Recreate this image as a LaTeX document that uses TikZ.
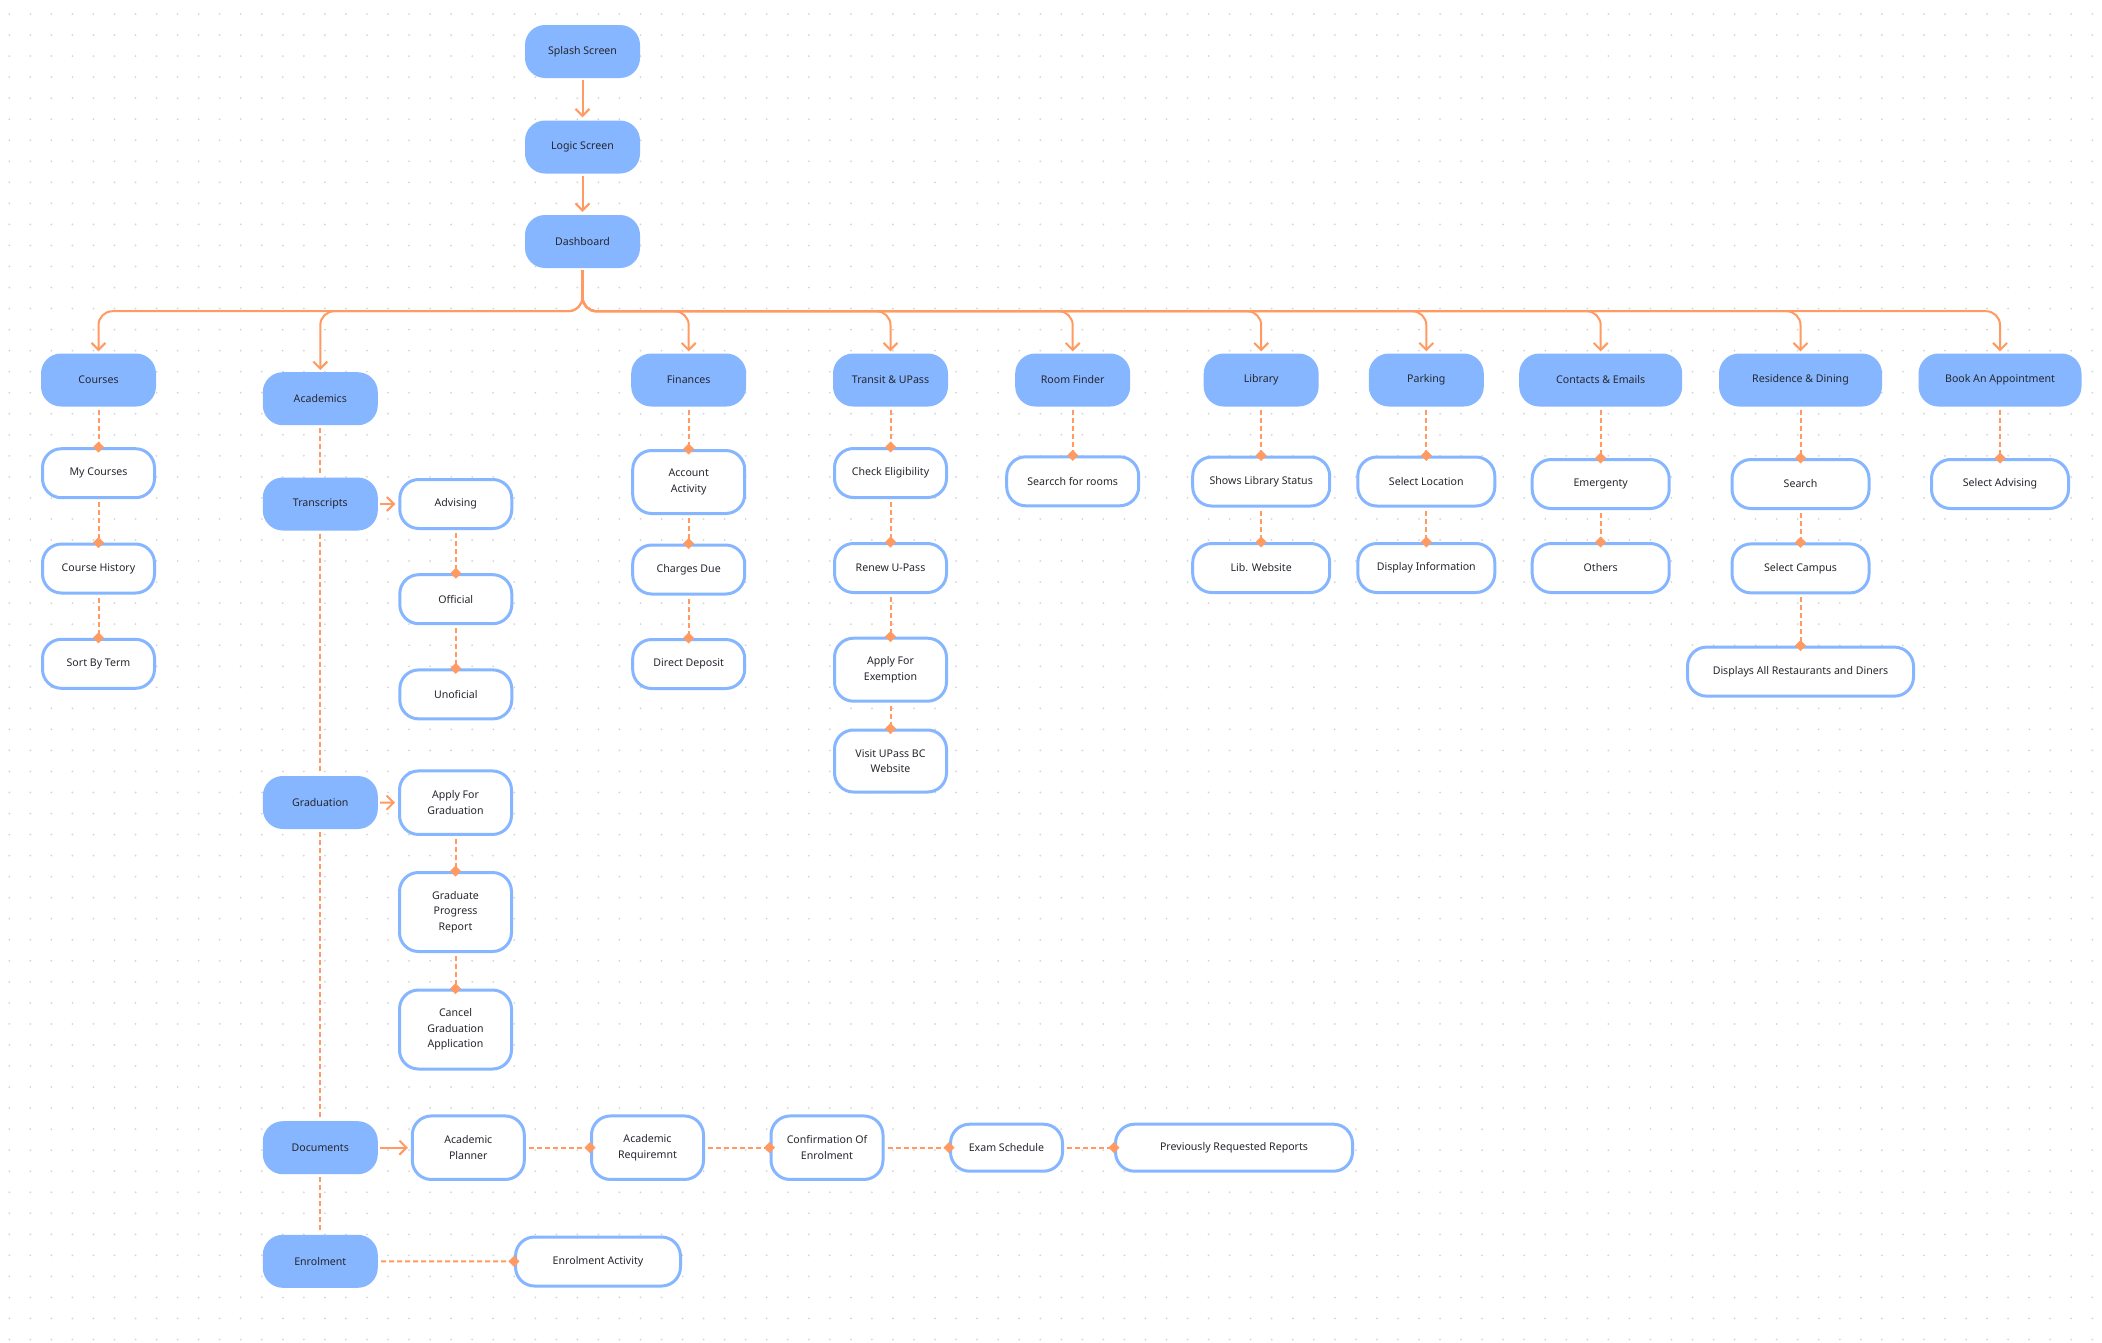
\documentclass[tikz,border=0pt]{standalone}
\usepackage{fontspec}
\setmainfont{Noto Sans}
\usetikzlibrary{arrows.meta}
\definecolor{boxblue}{RGB}{134,182,255}
\definecolor{orng}{RGB}{255,154,98}
\definecolor{txt}{RGB}{38,38,46}
\definecolor{dotgray}{RGB}{212,212,212}
\newcommand\dgfont{\fontsize{10.6}{15.5}\selectfont}
\tikzset{
  topbox/.style={fill=boxblue, draw=none, rounded corners=20pt, minimum width=115pt, minimum height=53pt, inner sep=2pt, font=\dgfont, text=txt, align=center},
  subbox/.style={fill=white, draw=boxblue, line width=3pt, rounded corners=19pt, minimum width=112pt, minimum height=49pt, inner sep=2pt, font=\dgfont, text=txt, align=center},
  busarrow/.style={draw=orng, line width=2pt, rounded corners=14pt, -{Straight Barb[length=7pt,width=14pt]}, shorten >=2pt, shorten <=2pt},
  sidearrow/.style={draw=orng, line width=2pt, -{Straight Barb[length=7pt,width=14pt]}, shorten >=3pt, shorten <=2pt},
  sublink/.style={draw=orng, line width=2pt, dash pattern=on 5pt off 3pt, -{Kite[length=11pt,width=11pt,inset=5.5pt]}, shorten >=-5.5pt, shorten <=3pt},
  dashline/.style={draw=orng, line width=2pt, dash pattern=on 5pt off 3pt, shorten <=3pt, shorten >=3pt},
  dotrow/.style={draw=dotgray, line width=2pt, line cap=round, dash pattern=on 0pt off 21.04pt}
}
\begin{document}
\begin{tikzpicture}[x=1pt,y=-1pt]
\useasboundingbox (0,0) rectangle (2102,1342);
\fill[white] (0,0) rectangle (2102,1342);
\foreach \j in {0,...,63} \draw[dotrow] (9.3,14+21.04*\j) -- (2102,14+21.04*\j);

% main chain
\node[topbox] (splash) at (582.5,51.5) {Splash Screen};
\node[topbox] (logic) at (582.5,147) {Logic Screen};
\node[topbox] (dashboard) at (582.5,241.5) {Dashboard};

% top level
\node[topbox] (courses) at (98.5,380) {Courses};
\node[topbox] (acad) at (320.3,398.7) {Academics};
\node[topbox] (fin) at (688.7,380) {Finances};
\node[topbox] (transit) at (890.5,380) {Transit \& UPass};
\node[topbox] (room) at (1072.7,380) {Room Finder};
\node[topbox] (lib) at (1261.2,380) {Library};
\node[topbox] (park) at (1426.3,380) {Parking};
\node[topbox, minimum width=163pt] (contacts) at (1600.7,380) {Contacts \& Emails};
\node[topbox, minimum width=163pt] (res) at (1800.5,380) {Residence \& Dining};
\node[topbox, minimum width=163pt] (book) at (2000,380) {Book An Appointment};

% courses
\node[subbox] (mycourses) at (98.5,473.2) {My Courses};
\node[subbox] (history) at (98.5,568.5) {Course History};
\node[subbox] (sortterm) at (98.5,663.8) {Sort By Term};

% academics
\node[topbox] (transcripts) at (320.3,504) {Transcripts};
\node[topbox] (graduation) at (320.3,802.5) {Graduation};
\node[topbox] (documents) at (320.3,1147.7) {Documents};
\node[topbox] (enrolment) at (320.3,1261.3) {Enrolment};
\node[subbox] (advising) at (455.8,504) {Advising};
\node[subbox] (official) at (455.8,599.2) {Official};
\node[subbox] (unofficial) at (455.8,694.4) {Unoficial};
\node[subbox, minimum height=63.5pt] (applygrad) at (455.5,802.7) {Apply For\\Graduation};
\node[subbox, minimum height=79pt] (gpr) at (455.5,912) {Graduate\\Progress\\Report};
\node[subbox, minimum height=79pt] (cancelgrad) at (455.5,1029.5) {Cancel\\Graduation\\Application};
\node[subbox, minimum height=63.5pt] (planner) at (468.3,1147.7) {Academic\\Planner};
\node[subbox, minimum height=63.5pt] (requirement) at (647.5,1147.7) {Academic\\Requiremnt};
\node[subbox, minimum height=63.5pt] (confirm) at (827,1147.7) {Confirmation Of\\Enrolment};
\node[subbox, minimum height=47pt] (exam) at (1006.5,1147.7) {Exam Schedule};
\node[subbox, minimum height=47pt, minimum width=237pt] (prevrep) at (1234,1147.7) {Previously Requested Reports};
\node[subbox, minimum width=165pt] (enrolact) at (598,1261.5) {Enrolment Activity};

% finances
\node[subbox, minimum height=63pt] (account) at (688.7,482) {Account\\Activity};
\node[subbox] (charges) at (688.7,569.5) {Charges Due};
\node[subbox] (deposit) at (688.7,664) {Direct Deposit};

% transit
\node[subbox] (eligibility) at (890.5,473) {Check Eligibility};
\node[subbox] (renew) at (890.5,568) {Renew U-Pass};
\node[subbox, minimum height=63pt] (exemption) at (890.5,669.7) {Apply For\\Exemption};
\node[subbox, minimum height=62pt] (visit) at (890.5,761) {Visit UPass BC\\Website};

% room finder, library, parking
\node[subbox, minimum width=132pt] (searchrooms) at (1072.7,481.3) {Searcch for rooms};
\node[subbox, minimum width=137pt] (libstatus) at (1261.2,481.5) {Shows Library Status};
\node[subbox, minimum width=137pt] (libweb) at (1261.2,568) {Lib. Website};
\node[subbox, minimum width=137pt] (selloc) at (1426.3,481.5) {Select Location};
\node[subbox, minimum width=137pt] (dispinfo) at (1426.3,568) {Display Information};

% contacts, residence, book
\node[subbox, minimum width=137pt] (emergenty) at (1600.7,484) {Emergenty};
\node[subbox, minimum width=137pt] (others) at (1600.7,568) {Others};
\node[subbox, minimum width=137pt] (search) at (1800.5,484) {Search};
\node[subbox, minimum width=137pt] (campus) at (1800.5,568.4) {Select Campus};
\node[subbox, minimum width=226pt] (restaurants) at (1800.5,671.6) {Displays All Restaurants and Diners};
\node[subbox, minimum width=137pt] (seladv) at (2000,484) {Select Advising};

% main chain arrows
\draw[sidearrow] (splash) -- (logic);
\draw[sidearrow] (logic) -- (dashboard);

% bus
\foreach \t in {courses,acad,fin,transit,room,lib,park,contacts,res,book}
  \draw[busarrow] (dashboard.south) -- ++(0,43) -| (\t.north);

% courses links
\draw[sublink] (courses) -- (mycourses);
\draw[sublink] (mycourses) -- (history);
\draw[sublink] (history) -- (sortterm);

% academics spine
\draw[dashline] (acad) -- (transcripts);
\draw[dashline] (transcripts) -- (graduation);
\draw[dashline] (graduation) -- (documents);
\draw[dashline] (documents) -- (enrolment);

\draw[sidearrow] (transcripts) -- (advising);
\draw[sublink] (advising) -- (official);
\draw[sublink] (official) -- (unofficial);

\draw[sidearrow] (graduation) -- (applygrad);
\draw[sublink] (applygrad) -- (gpr);
\draw[sublink] (gpr) -- (cancelgrad);

\draw[sidearrow] (documents) -- (planner);
\draw[sublink] (planner) -- (requirement);
\draw[sublink] (requirement) -- (confirm);
\draw[sublink] (confirm) -- (exam);
\draw[sublink] (exam) -- (prevrep);

\draw[sublink] (enrolment) -- (enrolact);

% finances
\draw[sublink] (fin) -- (account);
\draw[sublink] (account) -- (charges);
\draw[sublink] (charges) -- (deposit);

% transit
\draw[sublink] (transit) -- (eligibility);
\draw[sublink] (eligibility) -- (renew);
\draw[sublink] (renew) -- (exemption);
\draw[sublink] (exemption) -- (visit);

% others
\draw[sublink] (room) -- (searchrooms);
\draw[sublink] (lib) -- (libstatus);
\draw[sublink] (libstatus) -- (libweb);
\draw[sublink] (park) -- (selloc);
\draw[sublink] (selloc) -- (dispinfo);
\draw[sublink] (contacts) -- (emergenty);
\draw[sublink] (emergenty) -- (others);
\draw[sublink] (res) -- (search);
\draw[sublink] (search) -- (campus);
\draw[sublink] (campus) -- (restaurants);
\draw[sublink] (book) -- (seladv);
\end{tikzpicture}
\end{document}
